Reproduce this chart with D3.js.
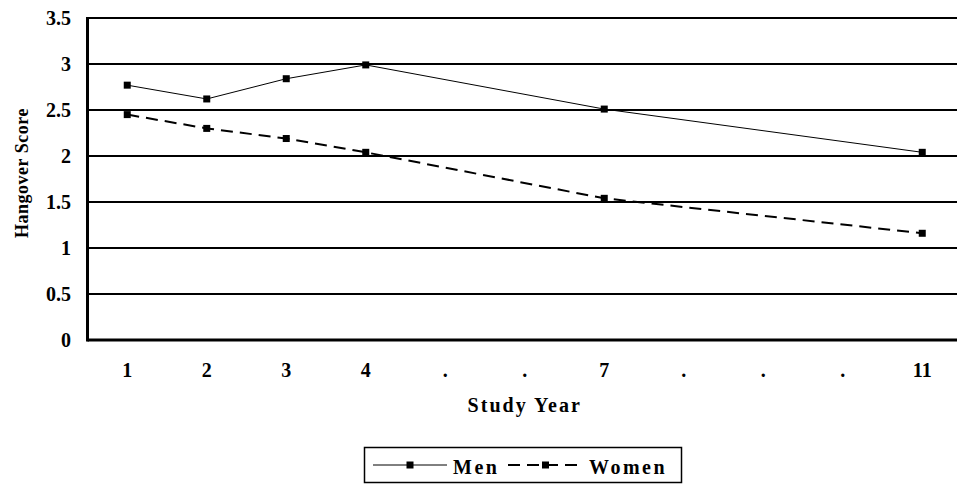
<!DOCTYPE html>
<html><head><meta charset="utf-8">
<script src="https://cdn.jsdelivr.net/npm/d3@7"></script>
<style>body{margin:0;background:#fff}svg{display:block}</style>
</head><body>
<svg id="c" width="957" height="487"></svg>
<script>
const categories = ["1","2","3","4",".",".","7",".",".",".","11"];
const menValues =   [2.77, 2.62, 2.84, 2.99, null, null, 2.51, null, null, null, 2.04];
const womenValues = [2.45, 2.30, 2.19, 2.04, null, null, 1.54, null, null, null, 1.16];
const yTicks = [0, 0.5, 1, 1.5, 2, 2.5, 3, 3.5];
const seriesNames = ["Men", "Women"];

const svg = d3.select("#c");
const L = 87.5, R = 962, T = 18, B = 340;
const x = d3.scaleBand().domain(d3.range(categories.length)).range([L, R]);
const y = d3.scaleLinear().domain([0, 3.5]).range([B, T]);
const font = "'Liberation Serif','Times New Roman',serif";

// gridlines
svg.append("g").selectAll("line").data(yTicks.filter(d => d > 0)).join("line")
  .attr("x1", L).attr("x2", R).attr("y1", d => y(d)).attr("y2", d => y(d))
  .attr("stroke", "#000").attr("stroke-width", d => d === 3.5 ? 2.2 : 1.8);

// y tick labels
svg.append("g").selectAll("text").data(yTicks).join("text")
  .attr("x", 71).attr("y", d => y(d)).attr("dy", "0.35em")
  .attr("text-anchor", "end").attr("font-family", font).attr("font-weight", "bold")
  .attr("font-size", 20).text(d => d);

// x tick labels
svg.append("g").selectAll("text").data(categories).join("text")
  .attr("x", (d, i) => x(i) + x.bandwidth() / 2).attr("y", 377)
  .attr("text-anchor", "middle").attr("font-family", font).attr("font-weight", "bold")
  .attr("font-size", 20).text(d => d);

// axes lines
svg.append("line").attr("x1", L).attr("x2", L).attr("y1", T - 1).attr("y2", B + 1.5)
  .attr("stroke", "#000").attr("stroke-width", 3);
svg.append("line").attr("x1", L).attr("x2", R).attr("y1", B).attr("y2", B)
  .attr("stroke", "#000").attr("stroke-width", 3);

// titles
svg.append("text").attr("transform", `translate(28,173) rotate(-90)`)
  .attr("text-anchor", "middle").attr("font-family", font).attr("font-weight", "bold")
  .attr("font-size", 18).attr("letter-spacing", 0.5).text("Hangover Score");
svg.append("text").attr("x", (L + R) / 2).attr("y", 412)
  .attr("text-anchor", "middle").attr("font-family", font).attr("font-weight", "bold")
  .attr("font-size", 20).attr("letter-spacing", 2).text("Study Year");

// series
const series = [
  {name: seriesNames[0], values: menValues, width: 1, dash: null},
  {name: seriesNames[1], values: womenValues, width: 2, dash: "12,7"}
];
const line = d3.line().defined(d => d.v != null)
  .x(d => x(d.i) + x.bandwidth() / 2).y(d => y(d.v));
series.forEach(s => {
  const pts = s.values.map((v, i) => ({v, i})).filter(d => d.v != null);
  svg.append("path").datum(pts).attr("d", line).attr("fill", "none")
    .attr("stroke", "#000").attr("stroke-width", s.width)
    .attr("stroke-dasharray", s.dash);
  svg.append("g").selectAll("rect").data(pts).join("rect")
    .attr("x", d => x(d.i) + x.bandwidth() / 2 - 3.5).attr("y", d => y(d.v) - 3.5)
    .attr("width", 7).attr("height", 7).attr("fill", "#000");
});

// legend
const lg = svg.append("g");
lg.append("rect").attr("x", 364.5).attr("y", 447.5).attr("width", 317).attr("height", 35)
  .attr("fill", "#fff").attr("stroke", "#000").attr("stroke-width", 1.5);
const legendItems = [
  {s: series[0], x1: 373, x2: 447, tx: 453},
  {s: series[1], x1: 508, x2: 583, tx: 589}
];
legendItems.forEach(it => {
  lg.append("line").attr("x1", it.x1).attr("x2", it.x2).attr("y1", 465).attr("y2", 465)
    .attr("stroke", "#000").attr("stroke-width", it.s.width)
    .attr("stroke-dasharray", it.s.dash ? "12,7" : null);
  lg.append("rect").attr("x", (it.x1 + it.x2) / 2 - 3.5).attr("y", 461.5)
    .attr("width", 7).attr("height", 7).attr("fill", "#000");
  lg.append("text").attr("x", it.tx).attr("y", 474).attr("font-family", font)
    .attr("font-weight", "bold").attr("font-size", 20).attr("letter-spacing", 2.5)
    .text(it.s.name);
});
</script>
</body></html>
